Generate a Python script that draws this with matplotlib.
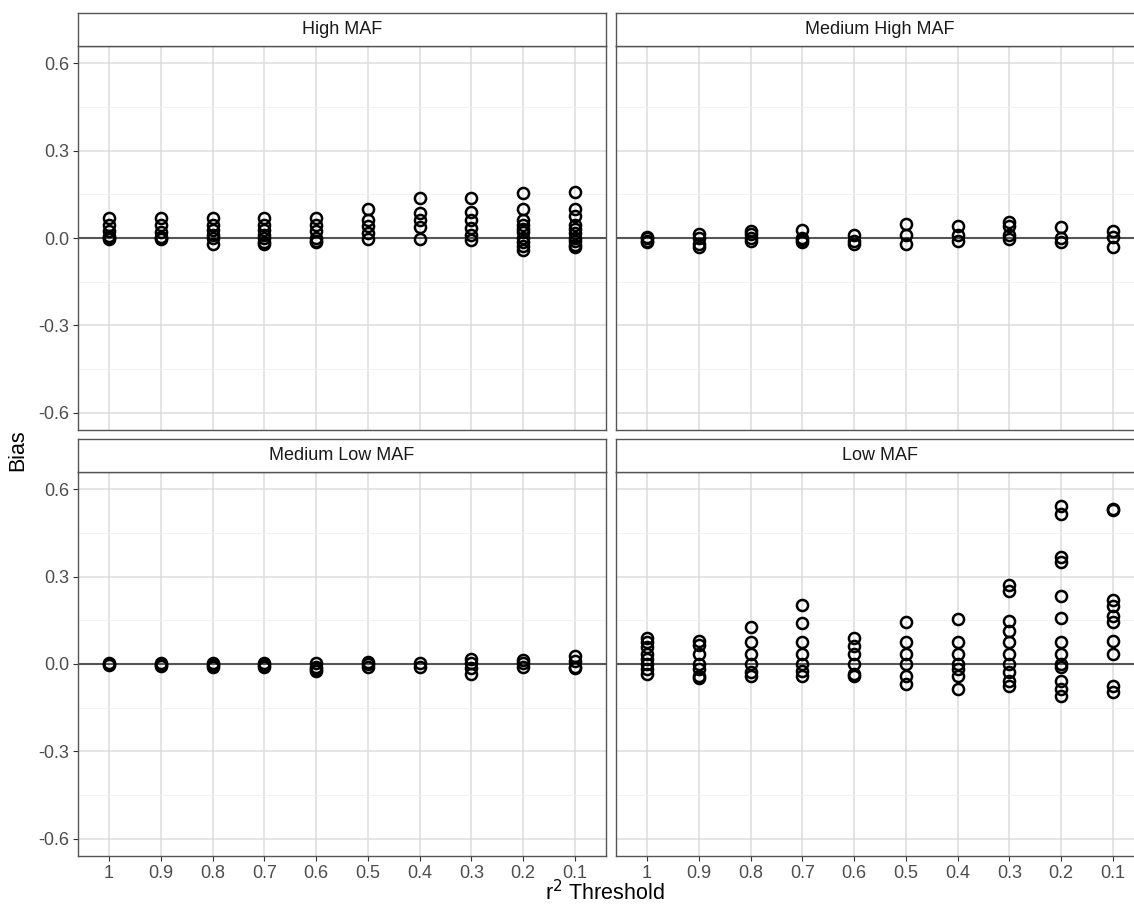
import matplotlib.pyplot as plt

plt.rcParams["font.family"] = ["Liberation Sans", "DejaVu Sans"]

thresholds = ["1", "0.9", "0.8", "0.7", "0.6", "0.5", "0.4", "0.3", "0.2", "0.1"]
panels = ["High MAF", "Medium High MAF", "Medium Low MAF", "Low MAF"]

# bias values per threshold
high_maf = [
    [0.068, 0.045, 0.025, 0.008, 0.0, -0.005],
    [0.068, 0.045, 0.022, 0.005, 0.0, -0.005],
    [0.07, 0.046, 0.029, 0.01, 0.0, -0.02],
    [0.068, 0.046, 0.029, 0.01, 0.0, -0.015, -0.022],
    [0.07, 0.045, 0.023, 0.0, -0.01, -0.015],
    [0.1, 0.063, 0.04, 0.017, -0.003],
    [0.139, 0.086, 0.063, 0.037, -0.003],
    [0.136, 0.088, 0.063, 0.034, 0.01, -0.006],
    [0.153, 0.1, 0.063, 0.046, 0.03, 0.019, 0.0, -0.015, -0.029, -0.04],
    [0.157, 0.1, 0.074, 0.046, 0.03, 0.017, 0.0, -0.012, -0.023, -0.03],
]
medium_high_maf = [
    [0.005, 0.0, -0.01, -0.015],
    [0.014, 0.0, -0.02, -0.032],
    [0.025, 0.014, 0.0, -0.012],
    [0.029, 0.0, -0.008, -0.015],
    [0.01, -0.009, -0.02],
    [0.048, 0.01, -0.02],
    [0.042, 0.01, -0.009],
    [0.054, 0.042, 0.01, -0.003],
    [0.037, 0.0, -0.015],
    [0.025, 0.002, -0.032],
]
medium_low_maf = [
    [0.005, 0.0, -0.003],
    [0.002, -0.005, -0.008],
    [0.003, -0.005, -0.01],
    [0.003, -0.005, -0.01],
    [0.005, -0.01, -0.017, -0.025],
    [0.008, 0.0, -0.01],
    [0.005, -0.01],
    [0.017, 0.005, -0.015, -0.034],
    [0.015, 0.005, -0.01],
    [0.026, 0.01, -0.01, -0.015],
]
low_maf = [
    [0.091, 0.074, 0.057, 0.034, 0.017, 0.0, -0.017, -0.034],
    [0.08, 0.066, 0.034, 0.0, -0.017, -0.04, -0.048],
    [0.128, 0.074, 0.034, 0.0, -0.029, -0.04],
    [0.202, 0.14, 0.074, 0.034, 0.0, -0.023, -0.04],
    [0.091, 0.063, 0.034, 0.0, -0.034, -0.04],
    [0.145, 0.074, 0.034, 0.0, -0.04, -0.069],
    [0.154, 0.074, 0.034, 0.0, -0.017, -0.042, -0.086],
    [0.271, 0.251, 0.149, 0.114, 0.074, 0.034, 0.0, -0.029, -0.057, -0.074],
    [0.543, 0.517, 0.368, 0.351, 0.234, 0.157, 0.074, 0.034, 0.0, -0.011, -0.057, -0.086, -0.109],
    [0.534, 0.529, 0.219, 0.2, 0.166, 0.143, 0.08, 0.034, -0.074, -0.097],
]
panel_data = [high_maf, medium_high_maf, medium_low_maf, low_maf]

W, H = 1134, 915
fig = plt.figure(figsize=(W / 100, H / 100), dpi=100)

# panel boxes in pixels: left, top, width, height
boxes = [(78, 46, 528, 384), (616, 46, 528, 384),
         (78, 472, 528, 384), (616, 472, 528, 384)]
strip_h = 33

for i, (name, data) in enumerate(zip(panels, panel_data)):
    x0, y0, w, h = boxes[i]
    ax = fig.add_axes([x0 / W, 1 - (y0 + h) / H, w / W, h / H])
    ax.set_xlim(0.4, 10.6)
    ax.set_ylim(-0.66, 0.66)
    ax.set_yticks([-0.6, -0.3, 0.0, 0.3, 0.6])
    ax.set_yticks([-0.45, -0.15, 0.15, 0.45], minor=True)
    ax.set_xticks(range(1, 11))
    ax.grid(True, which="major", color="#dcdcdc", lw=1.1)
    ax.grid(True, which="minor", axis="y", color="#f0f0f0", lw=0.6)
    ax.set_axisbelow(True)
    ax.axhline(0, color="#555555", lw=1.5, zorder=2)
    for k, vals in enumerate(data):
        ax.plot([k + 1] * len(vals), vals, "o", ms=8, mfc="none",
                mec="black", mew=1.8, zorder=3)
    for s in ax.spines.values():
        s.set_color("#555555")
        s.set_linewidth(1.0)
    ax.tick_params(length=3.5, color="#333333", labelcolor="#4d4d4d",
                   labelsize=13, pad=3)
    ax.tick_params(which="minor", length=0)
    if i % 2 == 0:
        ax.set_yticklabels(["-0.6", "-0.3", "0.0", "0.3", "0.6"])
    else:
        ax.set_yticklabels([])
        ax.tick_params(axis="y", length=0)
    if i >= 2:
        ax.set_xticklabels(thresholds)
    else:
        ax.set_xticklabels([])
        ax.tick_params(axis="x", length=0)

    # facet strip
    sax = fig.add_axes([x0 / W, 1 - y0 / H, w / W, strip_h / H])
    sax.set_xticks([])
    sax.set_yticks([])
    for s in sax.spines.values():
        s.set_color("#555555")
        s.set_linewidth(1.0)
    sax.text(0.5, 0.5, name, ha="center", va="center", fontsize=13,
             color="#1a1a1a", transform=sax.transAxes)

fig.text(18 / W, 1 - 450 / H, "Bias", rotation=90, ha="center", va="center",
         fontsize=15.5)
fig.text(605 / W, 1 - 893 / H, r"r$^2$ Threshold", ha="center", va="center",
         fontsize=15.5)

plt.savefig("out.png", dpi=100)
